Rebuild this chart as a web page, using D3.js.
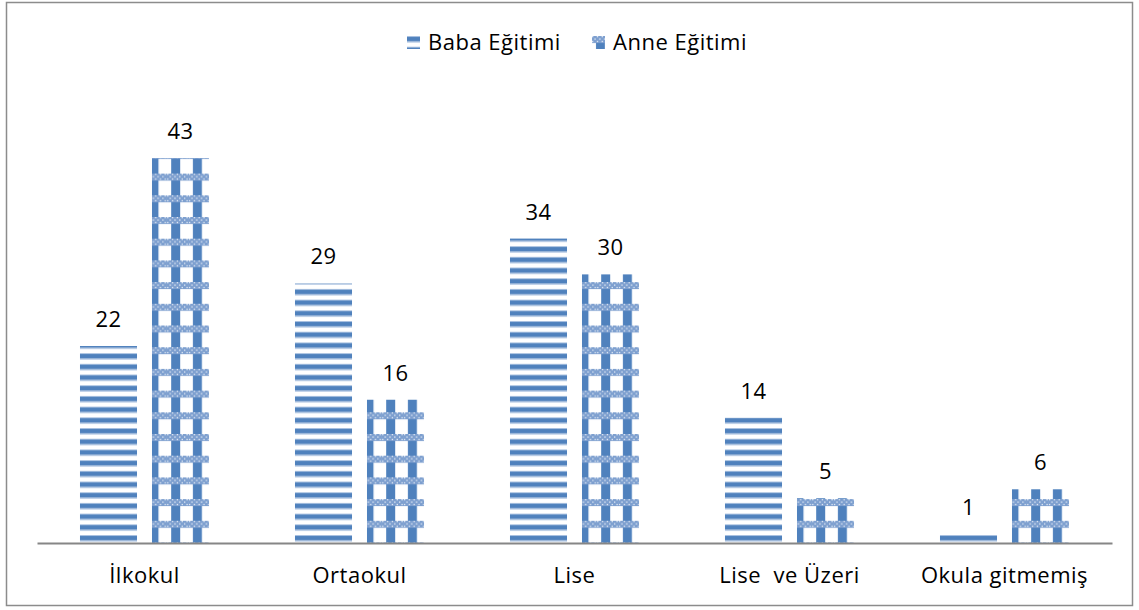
<!DOCTYPE html>
<html>
<head>
<meta charset="utf-8">
<script src="https://cdnjs.cloudflare.com/ajax/libs/d3/7.8.5/d3.min.js"></script>
<style>
  body { margin: 0; background: #fff; }
  text { font-family: "Open Sans", "Liberation Sans", sans-serif; fill: #000; letter-spacing: 0.5px; }
</style>
</head>
<body>
<div id="chart"></div>
<script>
var categories = ["İlkokul", "Ortaokul", "Lise", "Lise  ve Üzeri", "Okula gitmemiş"];
var seriesNames = ["Baba Eğitimi", "Anne Eğitimi"];
var babaValues = [22, 29, 34, 14, 1];
var anneValues = [43, 16, 30, 5, 6];

var width = 1139, height = 610,
    margin = {top: 158, bottom: 67, left: 37, right: 27},
    blue = "#4f81bd",
    fontSize = "22px";

var svg = d3.select("#chart").append("svg")
    .attr("width", width)
    .attr("height", height);

var defs = svg.append("defs");

// horizontal stripes
var stripes = defs.append("pattern")
    .attr("id", "stripes")
    .attr("patternUnits", "userSpaceOnUse")
    .attr("width", 10).attr("height", 10.7);
stripes.append("rect").attr("width", 10).attr("height", 10.7).attr("fill", "#fff");
stripes.append("rect").attr("y", 0).attr("width", 10).attr("height", 1).attr("fill", "#a9c1e0");
stripes.append("rect").attr("y", 1).attr("width", 10).attr("height", 4.5).attr("fill", blue);
stripes.append("rect").attr("y", 5.5).attr("width", 10).attr("height", 1).attr("fill", "#a9c1e0");

// plaid: blue columns crossed by dotted bands
var ps = 21.7;
var plaid = defs.append("pattern")
    .attr("id", "plaid")
    .attr("patternUnits", "userSpaceOnUse")
    .attr("width", ps).attr("height", ps);
plaid.append("rect").attr("width", ps).attr("height", ps).attr("fill", "#fff");
plaid.append("rect").attr("x", 4).attr("width", 9).attr("height", ps).attr("fill", blue);
plaid.append("rect").attr("y", 0).attr("width", ps).attr("height", 7).attr("fill", "#7d9fcf");
for (var px = 0; px < ps; px += 2.4) {
  for (var py = 0; py < 7; py += 2.4) {
    if ((Math.round(px / 2.4) + Math.round(py / 2.4)) % 2 === 0) {
      plaid.append("rect").attr("x", px).attr("y", py)
          .attr("width", 1.3).attr("height", 1.3).attr("fill", "#e4ecf6");
    }
  }
}

// frame
svg.append("rect")
    .attr("x", 6.5).attr("y", 2.5)
    .attr("width", 1126).attr("height", 603)
    .attr("fill", "none")
    .attr("stroke", "#8c8c8c")
    .attr("stroke-width", 1.5);

var x0 = d3.scaleBand()
    .domain(categories)
    .range([margin.left, width - margin.right]);

var x1 = d3.scaleBand()
    .domain(seriesNames)
    .range([0, x0.bandwidth()])
    .paddingInner(0.208)
    .paddingOuter(0.597);

var y = d3.scaleLinear()
    .domain([0, 43])
    .range([height - margin.bottom, margin.top]);

var rows = categories.map(function(c, i) {
  return [
    {cat: c, name: seriesNames[0], value: babaValues[i], fill: "url(#stripes)"},
    {cat: c, name: seriesNames[1], value: anneValues[i], fill: "url(#plaid)"}
  ];
});

var groups = svg.selectAll(".grp")
    .data(rows)
    .enter().append("g")
    .attr("class", "grp")
    .attr("transform", function(d, i) { return "translate(" + x0(categories[i]) + ",0)"; });

groups.selectAll("rect")
    .data(function(d) { return d; })
    .enter().append("rect")
    .attr("x", function(d) { return x1(d.name); })
    .attr("y", function(d) { return y(d.value); })
    .attr("width", x1.bandwidth())
    .attr("height", function(d) { return y(0) - y(d.value); })
    .attr("fill", function(d) { return d.fill; });

groups.selectAll(".val")
    .data(function(d) { return d; })
    .enter().append("text")
    .attr("class", "val")
    .attr("x", function(d) { return x1(d.name) + x1.bandwidth() / 2; })
    .attr("y", function(d) { return y(d.value) - 19; })
    .attr("text-anchor", "middle")
    .style("font-size", fontSize)
    .text(function(d) { return d.value; });

// axis
var xAxis = svg.append("g")
    .attr("transform", "translate(0," + y(0) + ")")
    .call(d3.axisBottom(x0).tickSize(0).tickPadding(24));
xAxis.select(".domain").attr("stroke", "#868686").attr("stroke-width", 2);
xAxis.selectAll("text")
    .style("font-size", fontSize)
    .style("white-space", "pre")
    .style("font-family", "\"Open Sans\", \"Liberation Sans\", sans-serif")
    .attr("fill", "#000");

// legend
var legend = svg.append("g");
var legendX = [407, 592];
seriesNames.forEach(function(n, i) {
  var g = legend.append("g").attr("transform", "translate(" + legendX[i] + ",36)");
  g.append("rect").attr("width", 13).attr("height", 13)
      .attr("fill", i === 0 ? "url(#stripes)" : "url(#plaid)");
  g.append("text").attr("x", 21).attr("y", 14)
      .style("font-size", fontSize)
      .text(n);
});
</script>
</body>
</html>
